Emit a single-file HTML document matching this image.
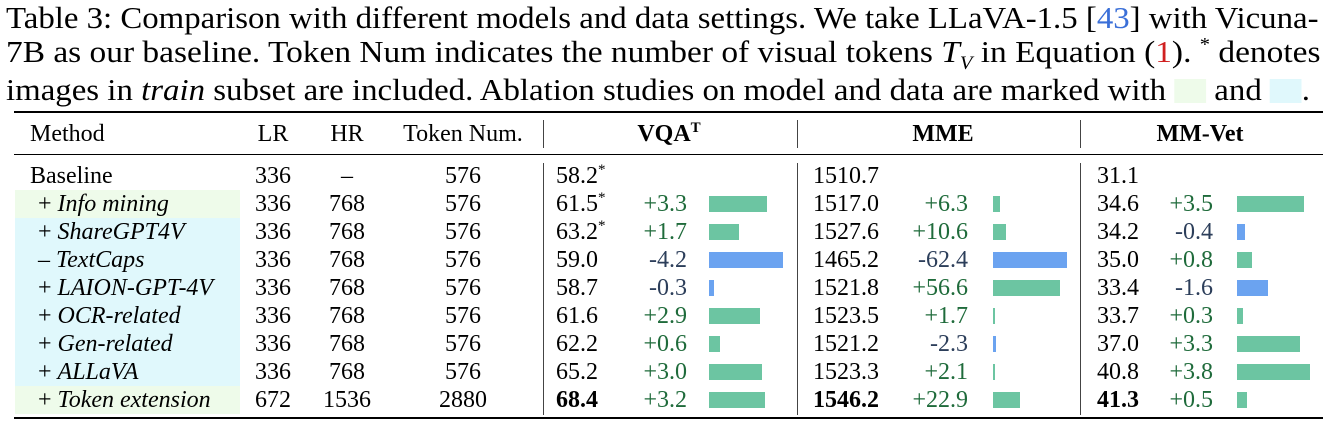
<!DOCTYPE html>
<html><head><meta charset="utf-8">
<style>
body{margin:0;background:#fff;width:1329px;height:423px;overflow:hidden;position:relative;font-family:"Liberation Serif","Times New Roman",serif;color:#000}
.cap{position:absolute;left:6px;font-size:31px;white-space:nowrap;transform-origin:0 0;line-height:34px;font-family:"Liberation Serif",serif}
.t{position:absolute;font-size:24px;white-space:nowrap;line-height:28px}
sup,sub{line-height:0}
.rule{position:absolute;background:#000;left:14px;width:1309px}
.vl{position:absolute;width:1px;background:#444}
.bg{position:absolute;left:15px;width:225px;height:28px}
.bar{position:absolute;height:16px}
.pos{color:#1f6b3b}.neg{color:#2c3e5a}
</style></head><body>
<div class="cap" data-w="1313" style="top:1px">Table 3: Comparison with different models and data settings. We take LLaVA-1.5 [<span style="color:#3a6fd8">43</span>] with Vicuna-</div>
<div class="cap" data-w="1314" style="top:35px">7B as our baseline. Token Num indicates the number of visual tokens <i>T<sub style="font-size:19px">V</sub></i> in Equation (<span style="color:#d02020">1</span>). <sup style="font-size:19px">*</sup> denotes</div>
<div class="cap" data-w="1304" style="top:73px">images in <i>train</i> subset are included. Ablation studies on model and data are marked with <span style="display:inline-block;width:30px;height:24px;background:#eefbea;vertical-align:-3px"></span> and <span style="display:inline-block;width:30px;height:24px;background:#e0f8fc;vertical-align:-3px"></span>.</div>
<div class="rule" style="top:111px;height:2px"></div>
<div class="rule" style="top:154px;height:1px"></div>
<div class="rule" style="top:417px;height:2px"></div>
<div id="tbl"></div>
<script>
const methods=["Baseline","+ Info mining","+ ShareGPT4V","– TextCaps","+ LAION-GPT-4V","+ OCR-related","+ Gen-related","+ ALLaVA","+ Token extension"];
const lr=["336","336","336","336","336","336","336","336","672"];
const hr=["–","768","768","768","768","768","768","768","1536"];
const tok=["576","576","576","576","576","576","576","576","2880"];
const vqa=["58.2*","61.5*","63.2*","59.0","58.7","61.6","62.2","65.2","68.4"];
const vqaD=[null,3.3,1.7,-4.2,-0.3,2.9,0.6,3.0,3.2];
const mme=["1510.7","1517.0","1527.6","1465.2","1521.8","1523.5","1521.2","1523.3","1546.2"];
const mmeD=[null,6.3,10.6,-62.4,56.6,1.7,-2.3,2.1,22.9];
const vet=["31.1","34.6","34.2","35.0","33.4","33.7","37.0","40.8","41.3"];
const vetD=[null,3.5,-0.4,0.8,-1.6,0.3,3.3,3.8,0.5];
const bgs=[null,"g","b","b","b","b","b","b","g"];
const T=document.getElementById('tbl');
function add(txt,x,y,align,cls,name,html){const d=document.createElement('div');d.className='t '+(cls||'');


if(html)d.innerHTML=txt;else d.textContent=txt;d.style.top=(y-14)+'px';
if(align==='c'){d.style.left=(x-100)+'px';d.style.width='200px';d.style.textAlign='center';}
else if(align==='r'){d.style.left=(x-200)+'px';d.style.width='200px';d.style.textAlign='right';}
else d.style.left=x+'px';T.appendChild(d);return d;}
add("Method",30,134,'l','','header-method');
add("LR",273,134,'c','','header-lr');add("HR",347,134,'c','','header-hr');add("Token Num.",463,134,'c','','header-token-num');
add("<b>VQA<sup style='font-size:15px'>T</sup></b>",669,134,'c','','header-vqa',true);
add("<b>MME</b>",943,134,'c','','header-mme',true);add("<b>MM-Vet</b>",1200,134,'c','','header-mm-vet',true);
[543,797,1080].forEach((x,i)=>{[[120,148],[163,415]].forEach(([a,b])=>{const v=document.createElement('div');v.className='vl';


v.style.left=x+'px';v.style.top=a+'px';v.style.height=(b-a)+'px';T.appendChild(v);});});
const y0=176,dy=28;
const groups=[[vqa,vqaD,556,687,709,17.6,'vqa'],[mme,mmeD,813,968,993,1.19,'mme'],[vet,vetD,1097,1213,1237,19.2,'mm-vet']];
methods.forEach((m,i)=>{const y=y0+i*dy;
 if(bgs[i]){const b=document.createElement('div');b.className='bg';
 
 
 b.style.top=(y-14)+'px';b.style.background=bgs[i]==='g'?'#eefbea':'#e0f8fc';T.appendChild(b);}
 if(i===0)add(m,30,y,'l','','method-name');else add(m[0]+" <i>"+m.slice(2)+"</i>",38,y,'l','','method-name',true);
 add(lr[i],273,y,'c','','lr-value');add(hr[i],347,y,'c','','hr-value');add(tok[i],463,y,'c','','token-num-value');
 groups.forEach(([vals,ds,vx,dx,bx,sc,nm])=>{let v=vals[i];let h=v.replace('*',"<sup style='font-size:15px'>*</sup>");
  if(i===8)h='<b>'+h+'</b>';add(h,vx,y,'l','',nm+'-value',true);
  const d=ds[i];if(d===null)return;
  add((d>0?'+':'')+d.toFixed(1),dx,y,'r',d>0?'pos':'neg',nm+'-delta');
  const bar=document.createElement('div');bar.className='bar';
  
  
  bar.style.left=bx+'px';bar.style.top=(y-8)+'px';bar.style.width=Math.max(2,Math.abs(d)*sc)+'px';
  bar.style.background=d>0?'#6cc5a2':'#6ba3f0';T.appendChild(bar);});
});
document.querySelectorAll('.cap').forEach(c=>{const w=+c.dataset.w;c.style.transform='scaleX('+(w/c.scrollWidth)+')';});
</script>
</body></html>
